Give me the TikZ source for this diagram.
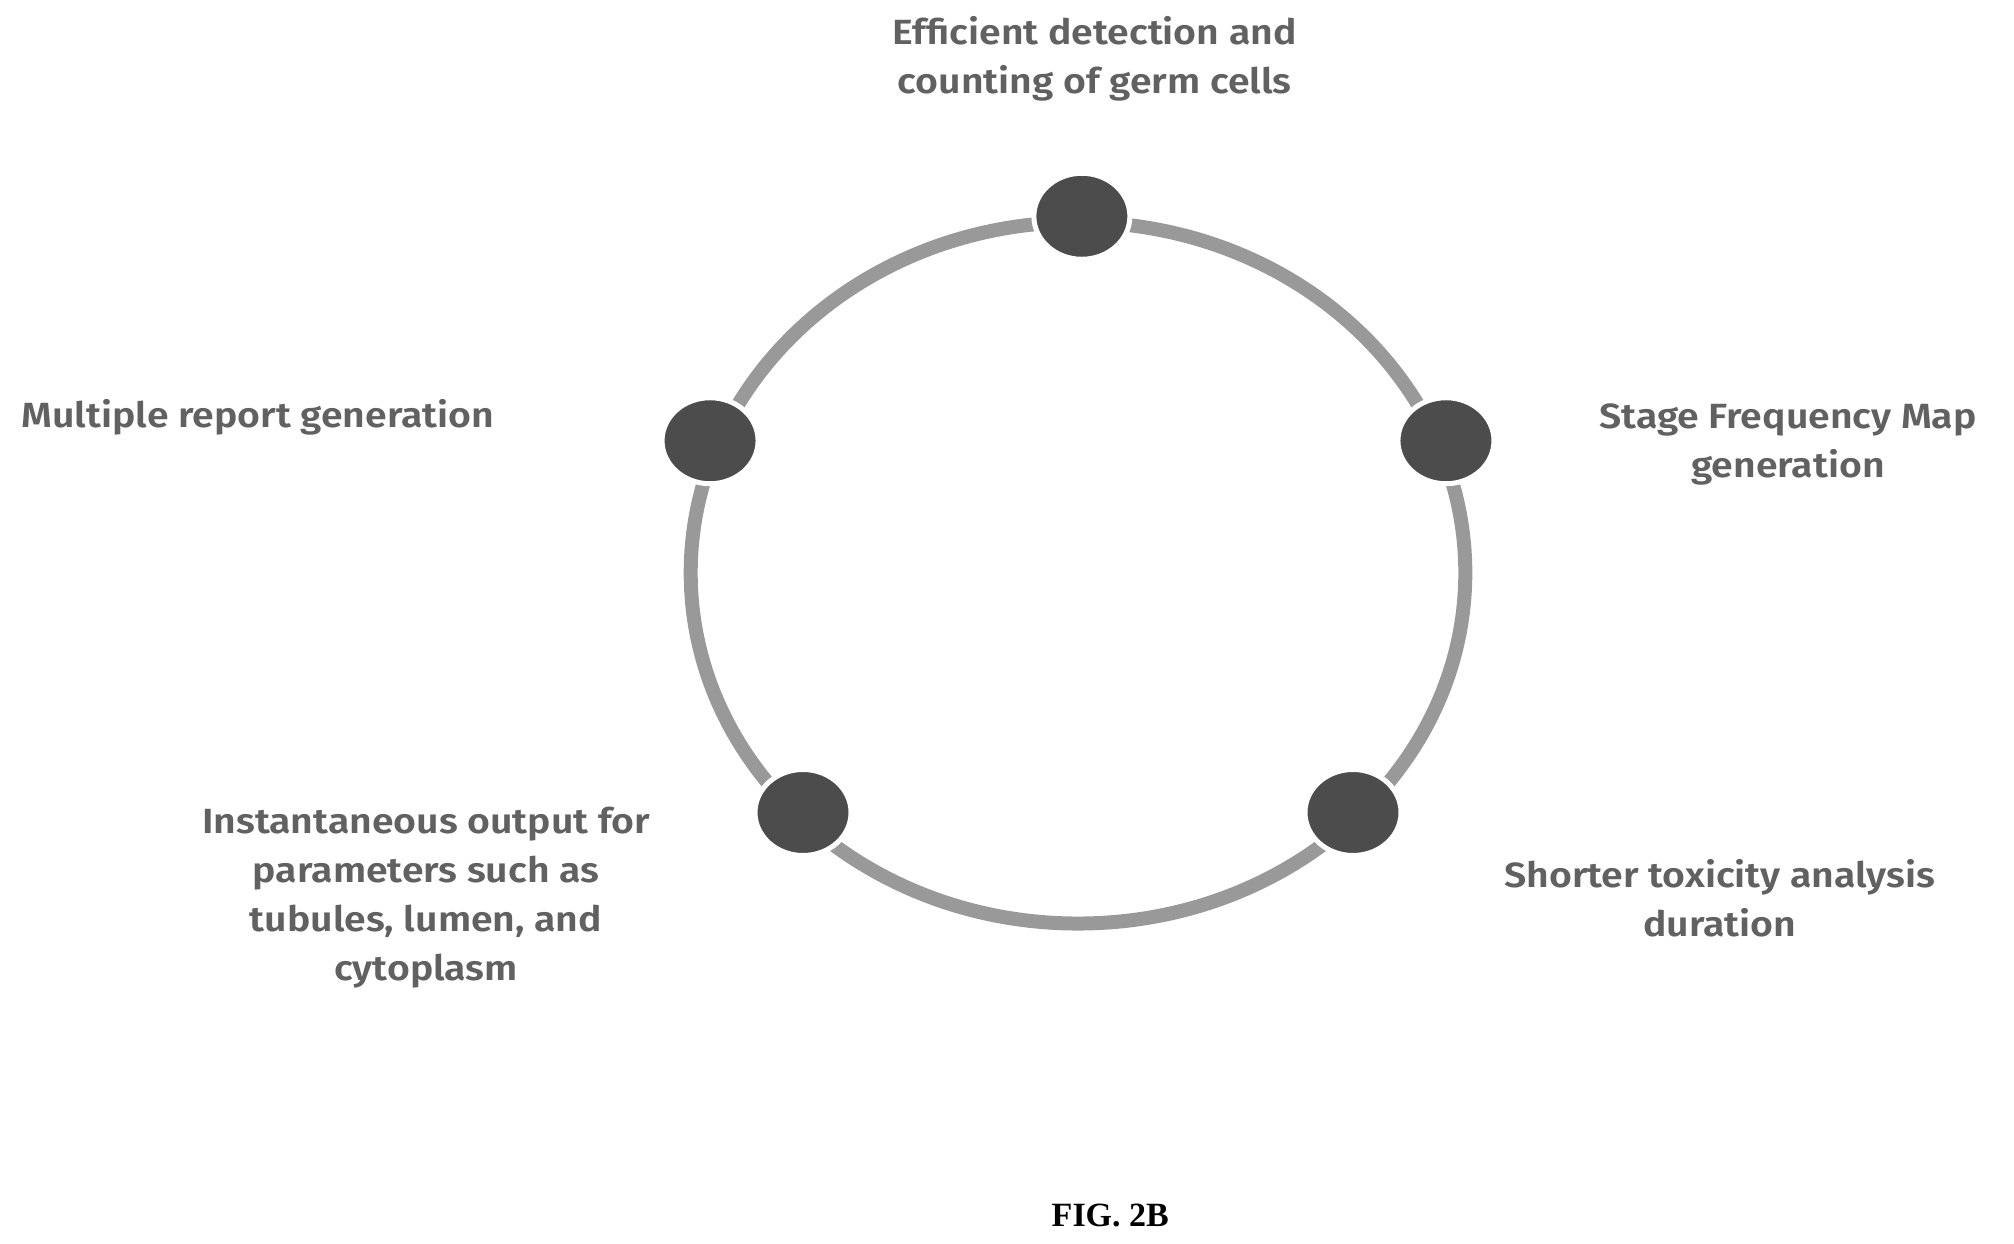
\documentclass[tikz,border=0pt]{standalone}
\usepackage{fontspec}
\usetikzlibrary{shapes.geometric}
\newfontfamily\lab{Fira Sans SemiBold}
\newcommand{\wide}[1]{\scalebox{1.12}[1]{#1}}
\begin{document}
\begin{tikzpicture}[x=1.291pt,y=-1.169pt,
  lbl/.style={font=\lab\fontsize{35}{49}\selectfont, text=black!62, align=center},
  dot/.style={ellipse, minimum width=96pt, minimum height=86pt, fill=black!70, draw=white, line width=5pt, inner sep=0pt}]
\useasboundingbox (0,0) rectangle (1560,1064);
\draw[black!40, line width=14pt] (835,490) ellipse (300 and 300);
\node[dot] (a) at (838,185) {};
\node[dot] (b) at (1120,377) {};
\node[dot] (c) at (1048,695) {};
\node[dot] (d) at (622,695) {};
\node[dot] (e) at (550,377) {};
\node[lbl] (ta) at (848,50) {\wide{Efficient detection and}\\\wide{counting of germ cells}};
\node[lbl] (tb) at (1385,380) {\wide{Stage Frequency Map}\\\wide{generation}};
\node[lbl] (tc) at (1332,768) {\wide{Shorter toxicity analysis}\\\wide{duration}};
\node[lbl] (td) at (330,768) {\wide{Instantaneous output for}\\\wide{parameters such as}\\\wide{tubules, lumen, and}\\\wide{cytoplasm}};
\node[lbl, anchor=west] (te) at (14,357) {\wide{Multiple report generation}};
\node[font=\fontspec{Liberation Serif}\bfseries\fontsize{34}{40}\selectfont] (fg) at (860,1040) {FIG. 2B};
\end{tikzpicture}
\end{document}
